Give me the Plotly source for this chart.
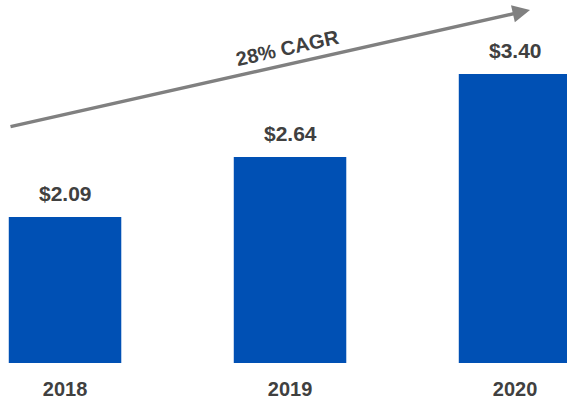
import plotly.graph_objects as go

years = ["2018", "2019", "2020"]
values = [2.09, 2.64, 3.40]
labels = ["&#36;2.09", "&#36;2.64", "&#36;3.40"]
cagr_text = "28% CAGR"

bar_color = "#0050B4"
text_color = "#404040"
arrow_color = "#808080"
FONT = "Liberation Sans, Arial"

fig = go.Figure()
fig.add_trace(go.Bar(x=years, y=values, marker=dict(color=bar_color, line=dict(width=0)),
                     width=0.5, hoverinfo="skip"))

for i, (v, lab) in enumerate(zip(values, labels)):
    fig.add_annotation(x=i, y=v, text="<b>" + lab + "</b>", showarrow=False, yshift=23,
                       xanchor="center", yanchor="middle",
                       font=dict(family=FONT, size=21, color=text_color),
                       xref="x", yref="y")

# growth arrow
fig.add_annotation(x=530 / 567, y=(363 - 10) / 363, xref="paper", yref="paper",
                   ax=-521, ay=117, axref="pixel", ayref="pixel",
                   showarrow=True, arrowhead=2, arrowsize=1, arrowwidth=3.5,
                   arrowcolor=arrow_color, text="")
fig.add_annotation(x=287 / 567, y=(363 - 48) / 363, xref="paper", yref="paper",
                   xanchor="center", yanchor="middle",
                   text="<b>" + cagr_text + "</b>", showarrow=False, textangle=-12.7,
                   font=dict(family=FONT, size=20, color=text_color))

fig.update_layout(
    width=567, height=403,
    margin=dict(l=0, r=0, t=0, b=40),
    paper_bgcolor="white", plot_bgcolor="white",
    showlegend=False,
    font=dict(family=FONT, color=text_color),
)
fig.update_xaxes(type="category", range=[-0.289, 2.231], showgrid=False, showline=False,
                 zeroline=False, ticks="outside", ticklen=8, tickcolor="rgba(0,0,0,0)",
                 tickfont=dict(family=FONT, size=20, color=text_color),
                 tickprefix="<b>", ticksuffix="</b>")
fig.update_yaxes(range=[0.753, 4.077], visible=False, showgrid=False)

fig.write_html("out.html", config={"displayModeBar": False, "staticPlot": True},
               post_script="document.body.style.margin='0px';")
